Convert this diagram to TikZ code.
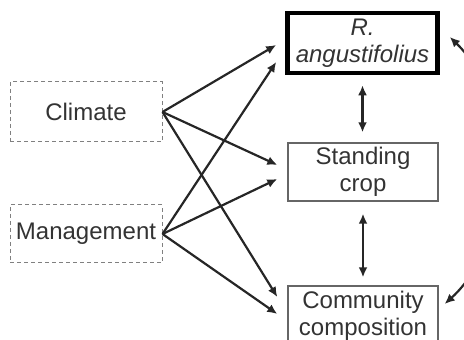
\documentclass[tikz,border=0pt]{standalone}
\usepackage{fontspec}
\setmainfont{Liberation Sans}
\usetikzlibrary{arrows.meta,calc}
\begin{document}
\begin{tikzpicture}[x=0.5pt, y=-0.5pt,
    txt/.style={font=\fontsize{12}{13.5}\selectfont, text=black!80, align=center, inner sep=0pt},
    driver/.style={txt, draw=gray, dash pattern=on 2pt off 1.5pt, line width=0.5pt, minimum width=76pt, minimum height=30pt},
    resp/.style={txt, draw=gray!80!black, line width=0.7pt, minimum width=75pt, minimum height=29pt},
    link/.style={-{Latex[length=5pt,width=4.5pt]}, line width=1.1pt, black!85},
    dlink/.style={{Latex[length=5pt,width=4.5pt]}-{Latex[length=5pt,width=4.5pt]}, line width=1.1pt, black!85}]
  \useasboundingbox (0,0) rectangle (464,340);
  \clip (0,0) rectangle (464,340);
  % drivers
  \node[driver] (clim) at (86,112) {Climate};
  \node[driver, minimum height=29pt] (mgmt) at (86,234) {Management};
  % responses
  \node[resp, draw=black, line width=2.3pt, minimum height=30pt] (rang) at (362.5,43) {\textit{R.}\\\textit{angustifolius}};
  \node[resp] (crop) at (363,172) {Standing\\crop};
  \node[resp, minimum height=30pt] (comp) at (363,316) {Community\\composition};
  % effects of drivers
  \draw[link] (clim.east) -- ($(rang.west)+(-9,2)$);
  \draw[link] (mgmt.east) -- ($(rang.west)+(-9,19)$);
  \draw[link] (clim.east) -- ($(crop.west)+(-10,-7)$);
  \draw[link] (mgmt.east) -- ($(crop.west)+(-10,7)$);
  \draw[link] (clim.east) -- ($(comp.west)+(-10,-19)$);
  \draw[link] (mgmt.east) -- ($(comp.west)+(-10,-2)$);
  % between responses
  \draw[dlink, shorten <=5pt, shorten >=5pt] (rang.south) -- (rang.south |- crop.north);
  \draw[dlink, shorten <=6pt, shorten >=4pt] (crop.south) -- (crop.south |- comp.north);
  \draw[dlink] ($(rang.east)+(10,-6)$) .. controls (515,100) and (515,240) .. ($(comp.east)+(6,-12)$);
\end{tikzpicture}
\end{document}
